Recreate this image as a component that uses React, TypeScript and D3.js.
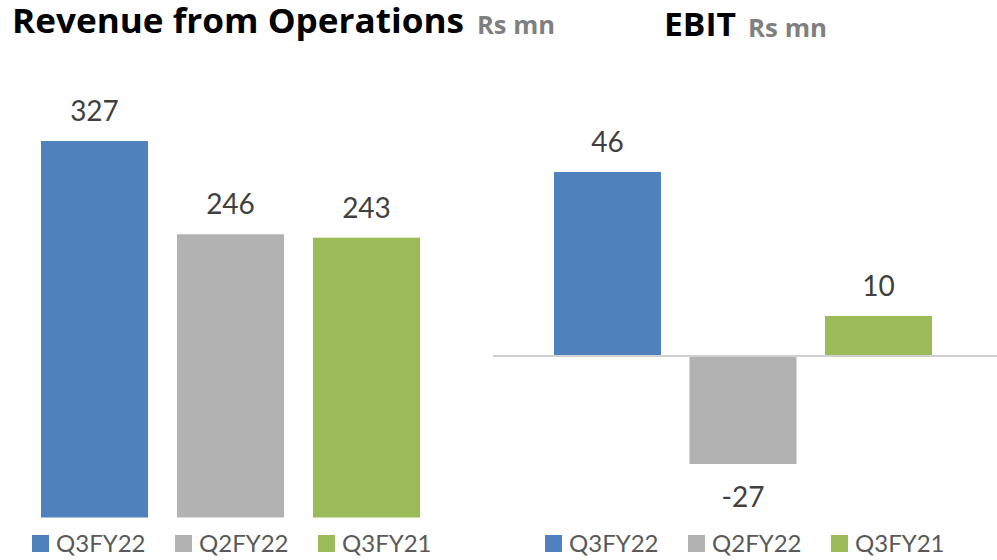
import React, { useEffect } from "react";
import * as d3 from "d3";

const categories = ["Q3FY22", "Q2FY22", "Q3FY21"];
const revenueValues = [327, 246, 243];
const ebitValues = [46, -27, 10];
const colors = ["#4f81bd", "#b2b2b2", "#9bbb59"];
const revenueTitle = "Revenue from Operations";
const ebitTitle = "EBIT";
const unitLabel = "Rs mn";

const FONT = "Lato, 'Open Sans', sans-serif";
const TITLE_FONT = "'Open Sans', Lato, sans-serif";

export default function App() {
  useEffect(() => {
    document.body.style.margin = "0";
  }, []);

  const xL = d3
    .scaleBand<string>()
    .domain(categories)
    .range([26.5, 434.5])
    .paddingInner(0.213)
    .paddingOuter(0.1065);
  const yL = d3.scaleLinear().domain([0, 350]).range([517.5, 114.5]);

  const xR = d3
    .scaleBand<string>()
    .domain(categories)
    .range([539.75, 946.25])
    .paddingInner(0.21)
    .paddingOuter(0.105);
  const yR = d3.scaleLinear().domain([-40, 50]).range([516, 156]);

  const legendLeftX = [32, 175, 318];
  const legendRightX = [545, 688, 831];

  return (
    <svg width={997} height={560} style={{ display: "block", background: "#fff" }}>
      {/* Titles */}
      <text x={12} y={33} fontFamily={TITLE_FONT} fontWeight={700} fontSize={34} fill="#000"
        textLength={452} lengthAdjust="spacingAndGlyphs">
        {revenueTitle}
      </text>
      <text x={477} y={34} fontFamily={TITLE_FONT} fontWeight={700} fontSize={25} fill="#7f7f7f"
        textLength={78} lengthAdjust="spacingAndGlyphs">
        {unitLabel}
      </text>
      <text x={664} y={36} fontFamily={TITLE_FONT} fontWeight={700} fontSize={33} fill="#000"
        textLength={72} lengthAdjust="spacingAndGlyphs">
        {ebitTitle}
      </text>
      <text x={748} y={37} fontFamily={TITLE_FONT} fontWeight={700} fontSize={25} fill="#7f7f7f"
        textLength={79} lengthAdjust="spacingAndGlyphs">
        {unitLabel}
      </text>

      {/* Left bars */}
      {revenueValues.map((v, i) => (
        <g key={"l" + i}>
          <rect
            x={xL(categories[i])}
            y={yL(v)}
            width={xL.bandwidth()}
            height={yL(0) - yL(v)}
            fill={colors[i]}
          />
          <text
            x={(xL(categories[i]) as number) + xL.bandwidth() / 2}
            y={yL(v) - 20}
            textAnchor="middle"
            fontFamily={FONT}
            fontSize={28}
            fill="#404040"
          >
            {v}
          </text>
        </g>
      ))}

      {/* Right bars */}
      {ebitValues.map((v, i) => {
        const y0 = yR(0);
        const yv = yR(v);
        return (
          <g key={"r" + i}>
            <rect
              x={xR(categories[i])}
              y={Math.min(y0, yv)}
              width={xR.bandwidth()}
              height={Math.abs(yv - y0)}
              fill={colors[i]}
            />
            <text
              x={(xR(categories[i]) as number) + xR.bandwidth() / 2}
              y={v >= 0 ? yv - 20 : yv + 43}
              textAnchor="middle"
              fontFamily={FONT}
              fontSize={28}
              fill="#404040"
            >
              {v}
            </text>
          </g>
        );
      })}
      <line x1={493} x2={997} y1={yR(0)} y2={yR(0)} stroke="#d0d0d0" strokeWidth={2} />

      {/* Legends */}
      {categories.map((c, i) => (
        <g key={"lg" + i}>
          <rect x={legendLeftX[i]} y={535} width={17} height={17} fill={colors[i]} />
          <text x={legendLeftX[i] + 24} y={552} fontFamily={FONT} fontSize={24} fill="#595959">
            {c}
          </text>
          <rect x={legendRightX[i]} y={535} width={17} height={17} fill={colors[i]} />
          <text x={legendRightX[i] + 24} y={552} fontFamily={FONT} fontSize={24} fill="#595959">
            {c}
          </text>
        </g>
      ))}
    </svg>
  );
}
